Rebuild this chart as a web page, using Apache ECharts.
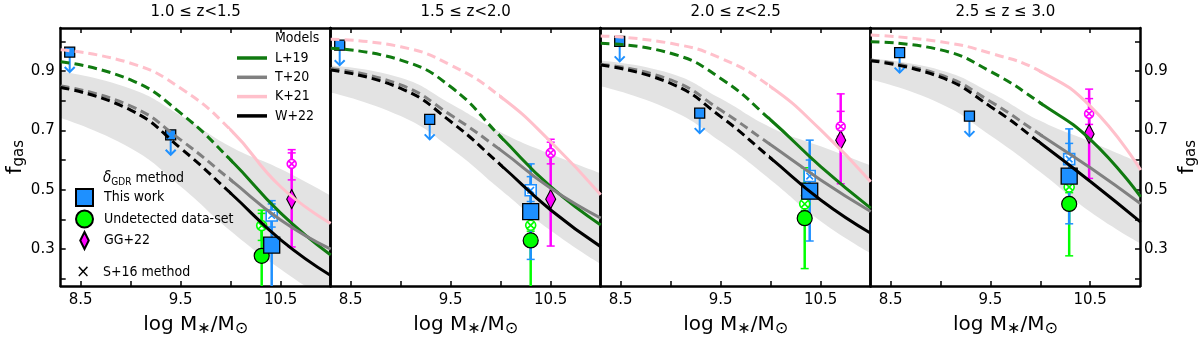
<!DOCTYPE html>
<html>
<head>
<meta charset="utf-8">
<script src="https://cdn.jsdelivr.net/npm/echarts@6/dist/echarts.min.js"></script>
<style>
  html, body { margin: 0; padding: 0; background: #fff; }
  #chart { width: 1200px; height: 342px; }
</style>
</head>
<body>
<div id="chart"></div>
<script>
// ---- data ----
var zBins = ['1.0 \u2264 z<1.5', '1.5 \u2264 z<2.0', '2.0 \u2264 z<2.5', '2.5 \u2264 z \u2264 3.0'];
var massGrid = [8.3, 9.0, 9.5, 10.0, 10.5, 11.0];
var dashBelow = 10.0;   // models drawn dashed below this mass

var L19 = [
  [0.914, 0.855, 0.748, 0.597, 0.426, 0.291],
  [0.957, 0.919, 0.833, 0.672, 0.511, 0.388],
  [0.973, 0.941, 0.860, 0.726, 0.576, 0.442],
  [0.978, 0.952, 0.882, 0.780, 0.662, 0.478]
];
var T20 = [
  [0.836, 0.771, 0.662, 0.533, 0.404, 0.310],
  [0.892, 0.839, 0.742, 0.629, 0.506, 0.410],
  [0.906, 0.855, 0.758, 0.646, 0.533, 0.431],
  [0.919, 0.871, 0.785, 0.678, 0.571, 0.456]
];
var K21 = [
  [0.952, 0.909, 0.828, 0.694, 0.511, 0.393],
  [0.986, 0.962, 0.903, 0.801, 0.656, 0.485],
  [0.997, 0.973, 0.925, 0.833, 0.694, 0.527],
  [1.000, 0.978, 0.941, 0.882, 0.769, 0.565]
];
var W22 = [
  [0.831, 0.758, 0.635, 0.490, 0.340, 0.225],
  [0.887, 0.828, 0.721, 0.581, 0.436, 0.318],
  [0.903, 0.844, 0.737, 0.603, 0.468, 0.361],
  [0.917, 0.864, 0.769, 0.651, 0.527, 0.397]
];
var bandHi = [
  [0.898, 0.840, 0.750, 0.645, 0.570, 0.480],
  [0.919, 0.877, 0.790, 0.694, 0.620, 0.555],
  [0.935, 0.892, 0.807, 0.710, 0.646, 0.581],
  [0.941, 0.903, 0.828, 0.732, 0.662, 0.590]
];
var bandLo = [
  [0.742, 0.640, 0.511, 0.361, 0.232, 0.120],
  [0.828, 0.748, 0.640, 0.500, 0.362, 0.249],
  [0.849, 0.769, 0.662, 0.533, 0.394, 0.286],
  [0.871, 0.790, 0.683, 0.560, 0.426, 0.320]
];

// upper limits [mass, fgas]
var upperLimits = [
  [[8.39, 0.964], [9.40, 0.685]],
  [[8.39, 0.987], [9.29, 0.737]],
  [[8.49, 1.000], [9.29, 0.758]],
  [[8.59, 0.962], [9.29, 0.748]]
];
// [mass, fgas, low, high]
var thisWork      = [[10.41, 0.313, 0.10, 0.463], [10.30, 0.426, 0.265, 0.587], [10.39, 0.495, 0.327, 0.667], [10.29, 0.546, 0.385, 0.705]];
var thisWorkS16   = [[10.41, 0.413, 0.374, 0.452], [10.30, 0.498, 0.460, 0.544], [10.39, 0.546, 0.520, 0.600], [10.29, 0.603, 0.570, 0.656]];
var undetected    = [[10.31, 0.277, 0.10, 0.431], [10.30, 0.329, 0.10, 0.380], [10.34, 0.404, 0.234, 0.574], [10.29, 0.452, 0.277, 0.520]];
var undetectedS16 = [[10.31, 0.379, 0.329, 0.420], [10.30, 0.380, 0.360, 0.400], [10.34, 0.452, 0.430, 0.480], [10.29, 0.509, 0.490, 0.530]];
var gg22          = [[10.61, 0.468, 0.307, 0.635], [10.50, 0.468, 0.310, 0.660], [10.70, 0.667, 0.520, 0.823], [10.49, 0.688, 0.538, 0.839]];
var gg22S16       = [[10.61, 0.587, 0.533, 0.624], [10.50, 0.624, 0.587, 0.670], [10.70, 0.713, 0.680, 0.764], [10.49, 0.756, 0.720, 0.807]];

var xTicks = [8.5, 9.0, 9.5, 10.0, 10.5];
var xLabels = [8.5, 9.5, 10.5];
var yTicks = [0.2, 0.3, 0.4, 0.5, 0.6, 0.7, 0.8, 0.9, 1.0];
var yLabels = [0.3, 0.5, 0.7, 0.9];

// ---- styles ----
var FONT = '"DejaVu Sans", sans-serif';
var FONT_C = '"DejaVu Sans Condensed", "DejaVu Sans", sans-serif';
var BLUE = '#1e90ff', LIME = '#00ff00', MAG = '#ff00ff';
var XSQUARE = 'path://M0,0L10,0L10,10L0,10Z M2,2L8,8 M8,2L2,8';
var XCIRCLE = 'path://M10,5A5,5,0,1,1,0,5A5,5,0,1,1,10,5Z M1.6,1.6L8.4,8.4 M8.4,1.6L1.6,8.4';
var models = [
  { name: 'L+19', vals: L19, color: '#107a10' },
  { name: 'T+20', vals: T20, color: '#808080' },
  { name: 'K+21', vals: K21, color: '#ffc0cb' },
  { name: 'W+22', vals: W22, color: '#000000' }
];
var X0 = 8.3, X1 = 11.0, Y0 = 0.175, Y1 = 1.045;
var PANEL_W = 270, PANEL_H = 270, PANEL_L = 60.7, PANEL_T = 21;

var chart = echarts.init(document.getElementById('chart'));

var grids = [], xAxes = [], yAxes = [], series = [];
var tickLine = { color: '#000', width: 1.5 };
var spine = { show: true, onZero: false, lineStyle: { color: '#000', width: 2.5 } };
var labelFont = { color: '#000', fontSize: 15, fontFamily: FONT };

function errRender(color) {
  return function (params, api) {
    var x = api.value(0);
    var a = api.coord([x, api.value(2)]);
    var b = api.coord([x, api.value(3)]);
    var c = 4;
    return {
      type: 'group',
      children: [
        { type: 'line', shape: { x1: a[0], y1: a[1], x2: b[0], y2: b[1] }, style: { stroke: color, lineWidth: 2.5 } },
        { type: 'line', shape: { x1: a[0] - c, y1: a[1], x2: a[0] + c, y2: a[1] }, style: { stroke: color, lineWidth: 1.5 } },
        { type: 'line', shape: { x1: b[0] - c, y1: b[1], x2: b[0] + c, y2: b[1] }, style: { stroke: color, lineWidth: 1.5 } }
      ]
    };
  };
}

function arrowRender(params, api) {
  var p = api.coord([api.value(0), api.value(1)]);
  var len = 20, h = 5;
  return {
    type: 'group',
    children: [
      { type: 'line', shape: { x1: p[0], y1: p[1], x2: p[0], y2: p[1] + len }, style: { stroke: BLUE, lineWidth: 2 } },
      { type: 'polyline', shape: { points: [[p[0] - h, p[1] + len - h], [p[0], p[1] + len], [p[0] + h, p[1] + len - h]] },
        style: { stroke: BLUE, lineWidth: 2, fill: null } }
    ]
  };
}

// hidden helper grid covering part of a panel (same px/unit), used to clip dashed / solid parts
function addHiddenGrid(left, xmin, xmax) {
  var g = grids.length;
  grids.push({ left: left + (xmin - X0) * PANEL_W / (X1 - X0), top: PANEL_T,
               width: (xmax - xmin) * PANEL_W / (X1 - X0), height: PANEL_H });
  xAxes.push({ gridIndex: g, type: 'value', min: xmin, max: xmax, show: false });
  yAxes.push({ gridIndex: g, type: 'value', min: Y0, max: Y1, show: false });
  return xAxes.length - 1;
}

for (var i = 0; i < 4; i++) {
  var left = PANEL_L + PANEL_W * i;
  var gi = grids.length;
  grids.push({ left: left, top: PANEL_T, width: PANEL_W, height: PANEL_H });

  var xa = xAxes.length;
  xAxes.push({
    gridIndex: gi, type: 'value', min: X0, max: X1, position: 'bottom',
    axisLine: spine,
    axisTick: { show: true, inside: true, length: 5, customValues: xTicks, lineStyle: tickLine },
    axisLabel: Object.assign({ customValues: xLabels, margin: 7 }, labelFont),
    splitLine: { show: false },
    name: 'log M{s|\u2217}/M{s|\u2299}', nameLocation: 'middle', nameGap: 26,
    nameTextStyle: { color: '#000', fontSize: 20, fontFamily: FONT, lineHeight: 24,
      rich: { s: { fontSize: 16, fontFamily: FONT, color: '#000', verticalAlign: 'bottom', lineHeight: 14 } } }
  });
  xAxes.push({
    gridIndex: gi, type: 'value', min: X0, max: X1, position: 'top',
    axisLine: spine,
    axisTick: { show: true, inside: true, length: 5, customValues: xTicks, lineStyle: tickLine },
    axisLabel: { show: false }, splitLine: { show: false },
    name: zBins[i], nameLocation: 'middle', nameGap: 8,
    nameTextStyle: { color: '#000', fontSize: 15, fontFamily: FONT }
  });

  var yName = 'f{s|gas}';
  var yNameStyle = { color: '#000', fontSize: 22, fontFamily: FONT, lineHeight: 24,
    rich: { s: { fontSize: 15, fontFamily: FONT, color: '#000', verticalAlign: 'bottom', lineHeight: 14 } } };
  var ya = yAxes.length;
  yAxes.push({
    gridIndex: gi, type: 'value', min: Y0, max: Y1, position: 'left',
    axisLine: spine,
    axisTick: { show: i === 0, inside: true, length: 5, customValues: yTicks, lineStyle: tickLine },
    axisLabel: Object.assign({ show: i === 0, customValues: yLabels, margin: 6 }, labelFont),
    splitLine: { show: false },
    name: i === 0 ? yName : '', nameLocation: 'middle', nameRotate: 90, nameGap: 33, nameTextStyle: yNameStyle
  });
  yAxes.push({
    gridIndex: gi, type: 'value', min: Y0, max: Y1, position: 'right',
    axisLine: spine,
    axisTick: { show: i === 3, inside: true, length: 5, customValues: yTicks, lineStyle: tickLine },
    axisLabel: Object.assign({ show: i === 3, customValues: yLabels, margin: 4 }, labelFont),
    splitLine: { show: false },
    name: i === 3 ? yName : '', nameLocation: 'middle', nameRotate: 90, nameGap: 35, nameTextStyle: yNameStyle
  });

  var xDash = addHiddenGrid(left, X0, dashBelow);
  var xSolid = addHiddenGrid(left, dashBelow, X1);

  // shaded band: grey area under upper edge, then white area under lower edge (both below the axes)
  series.push({
    type: 'line', xAxisIndex: xa, yAxisIndex: ya, symbol: 'none', smooth: 0.5, silent: true, z: -2,
    lineStyle: { width: 0, opacity: 0 }, areaStyle: { color: '#e3e3e3', opacity: 1, origin: 'start' },
    data: massGrid.map(function (x, k) { return [x, bandHi[i][k]]; })
  });
  series.push({
    type: 'line', xAxisIndex: xa, yAxisIndex: ya, symbol: 'none', smooth: 0.5, silent: true, z: -1,
    lineStyle: { width: 0, opacity: 0 }, areaStyle: { color: '#ffffff', opacity: 1, origin: 'start' },
    data: massGrid.map(function (x, k) { return [x, bandLo[i][k]]; })
  });

  // model curves: same full curve, clipped to the dashed and the solid part
  models.forEach(function (m) {
    var pts = massGrid.map(function (x, k) { return [x, m.vals[i][k]]; });
    series.push({
      name: m.name + ' (extrapolated)', type: 'line', xAxisIndex: xDash, yAxisIndex: xDash, symbol: 'none',
      smooth: 0.5, clip: true, color: m.color, lineStyle: { color: m.color, width: 3, type: [9, 5] }, data: pts
    });
    series.push({
      name: m.name, type: 'line', xAxisIndex: xSolid, yAxisIndex: xSolid, symbol: 'none',
      smooth: 0.5, clip: true, color: m.color, lineStyle: { color: m.color, width: 3 }, data: pts
    });
  });

  // error bars
  [[undetected, LIME], [undetectedS16, LIME], [thisWork, BLUE], [thisWorkS16, BLUE], [gg22, MAG], [gg22S16, MAG]]
    .forEach(function (e) {
      series.push({
        type: 'custom', xAxisIndex: xa, yAxisIndex: ya, clip: true, silent: true,
        encode: { x: 0, y: 1 }, renderItem: errRender(e[1]), data: [e[0][i]]
      });
    });

  // upper limit arrows + squares
  series.push({
    type: 'custom', xAxisIndex: xa, yAxisIndex: ya, clip: true, silent: true,
    encode: { x: 0, y: 1 }, renderItem: arrowRender, data: upperLimits[i]
  });
  series.push({
    type: 'scatter', xAxisIndex: xa, yAxisIndex: ya, symbol: 'rect', symbolSize: 10,
    itemStyle: { color: BLUE, borderColor: '#000', borderWidth: 1.3, opacity: 1 }, data: upperLimits[i]
  });

  var pt = function (arr) { return [[arr[i][0], arr[i][1]]]; };

  series.push({
    name: 'Undetected data-set', type: 'scatter', xAxisIndex: xa, yAxisIndex: ya, symbol: 'circle', symbolSize: 15,
    color: LIME, itemStyle: { color: LIME, borderColor: '#000', borderWidth: 1.2, opacity: 1 }, data: pt(undetected)
  });
  series.push({
    type: 'scatter', xAxisIndex: xa, yAxisIndex: ya, symbol: XCIRCLE, symbolSize: 10,
    itemStyle: { color: '#fff', borderColor: LIME, borderWidth: 1.6, opacity: 1 }, data: pt(undetectedS16)
  });
  series.push({
    name: 'This work', type: 'scatter', xAxisIndex: xa, yAxisIndex: ya, symbol: 'rect', symbolSize: 16,
    color: BLUE, itemStyle: { color: BLUE, borderColor: '#000', borderWidth: 1.3, opacity: 1 }, data: pt(thisWork)
  });
  series.push({
    type: 'scatter', xAxisIndex: xa, yAxisIndex: ya, symbol: XSQUARE, symbolSize: 11,
    itemStyle: { color: '#fff', borderColor: BLUE, borderWidth: 1.6, opacity: 1 }, data: pt(thisWorkS16)
  });
  series.push({
    name: 'GG+22', type: 'scatter', xAxisIndex: xa, yAxisIndex: ya, symbol: 'diamond', symbolSize: [10, 19],
    color: MAG, itemStyle: { color: MAG, borderColor: '#000', borderWidth: 1.2, opacity: 1 }, data: pt(gg22)
  });
  series.push({
    type: 'scatter', xAxisIndex: xa, yAxisIndex: ya, symbol: XCIRCLE, symbolSize: 9,
    itemStyle: { color: '#fff', borderColor: MAG, borderWidth: 1.6, opacity: 1 }, data: pt(gg22S16)
  });
}

var legendText = { color: '#000', fontSize: 14, fontFamily: FONT_C, lineHeight: 16 };

chart.setOption({
  animation: false,
  backgroundColor: '#fff',
  grid: grids,
  xAxis: xAxes,
  yAxis: yAxes,
  title: [
    { text: 'Models', left: 275, top: 31, padding: 0,
      textStyle: { color: '#000', fontSize: 14, fontWeight: 'normal', fontFamily: FONT_C } },
    { text: '{d|\u03b4}{s|GDR} method', left: 103, top: 169, padding: 0,
      textStyle: { color: '#000', fontSize: 14, fontWeight: 'normal', fontFamily: FONT_C, lineHeight: 18,
        rich: { d: { fontSize: 15, fontStyle: 'italic', fontFamily: FONT_C, color: '#000', lineHeight: 18 },
                s: { fontSize: 10, fontFamily: FONT_C, color: '#000', verticalAlign: 'bottom', lineHeight: 12 } } } },
    { text: '{x|\u00d7}S+16 method', left: 76, top: 264, padding: 0,
      textStyle: { color: '#000', fontSize: 14, fontWeight: 'normal', fontFamily: FONT_C,
        rich: { x: { width: 27, fontSize: 17, fontFamily: FONT, color: '#000' } } } }
  ],
  legend: [
    {
      data: models.map(function (m) { return { name: m.name, icon: 'rect' }; }),
      orient: 'vertical', left: 237, top: 50, padding: 0,
      itemWidth: 30, itemHeight: 3.5, itemGap: 3.3, selectedMode: false,
      textStyle: Object.assign({ padding: [0, 0, 0, 3] }, legendText)
    },
    {
      data: [
        { name: 'This work', icon: 'path://M0,0L10,0L10,10L0,10Z' },
        { name: 'Undetected data-set', icon: 'circle' },
        { name: 'GG+22', icon: 'path://M5,0L10,10L5,20L0,10Z' }
      ],
      orient: 'vertical', left: 75, top: 188, padding: 0,
      itemWidth: 17, itemHeight: 17, itemGap: 2.5, selectedMode: false,
      textStyle: Object.assign({ padding: [0, 0, 0, 6] }, legendText)
    }
  ],
  series: series
});
</script>
</body>
</html>
